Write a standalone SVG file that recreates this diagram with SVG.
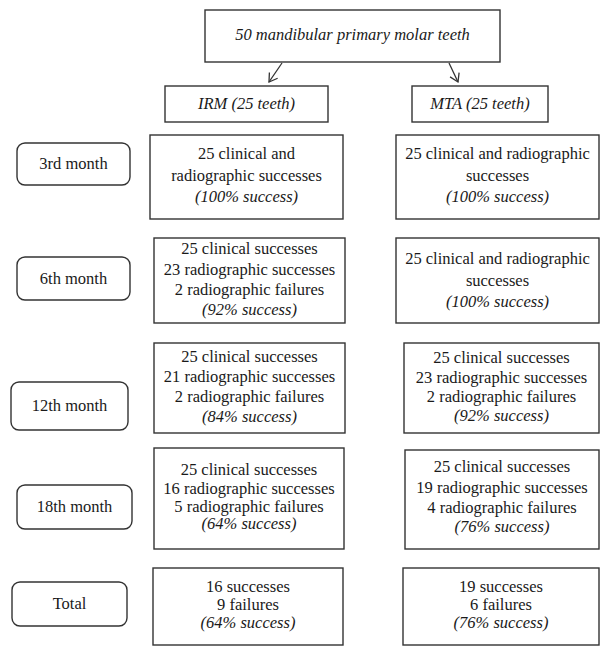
<svg xmlns="http://www.w3.org/2000/svg" width="610" height="656" viewBox="0 0 610 656">
<defs>
<style>
.box{fill:#fff;stroke:#333;stroke-width:1.4}
.lbl{fill:#fff;stroke:#333;stroke-width:1.4}
text{font-family:"Liberation Serif","Times New Roman",serif;font-size:16.5px;fill:#1a1a1a;text-anchor:middle}
.it{font-style:italic}
.conn{fill:none;stroke:#333;stroke-width:1.3}
</style>
<marker id="ah" markerWidth="12" markerHeight="12" refX="10" refY="6" orient="auto" markerUnits="userSpaceOnUse">
<polyline points="2,1 10,6 2,11" fill="none" stroke="#333" stroke-width="1.3"/>
</marker>
</defs>
<rect width="610" height="656" fill="#fff"/>

<g id="top">
<rect class="box" x="205" y="10" width="295" height="52"/>
<text class="it" x="352.5" y="40">50 mandibular primary molar teeth</text>
</g>
<g id="irm">
<rect class="box" x="165" y="86" width="163" height="36"/>
<text class="it" x="246.5" y="109">IRM (25 teeth)</text>
</g>
<g id="mta">
<rect class="box" x="412" y="86" width="136" height="36"/>
<text class="it" x="480" y="109">MTA (25 teeth)</text>
</g>

<g id="connectors">
<line class="conn" x1="282" y1="63" x2="269" y2="82" marker-end="url(#ah)"/>
<line class="conn" x1="449" y1="63" x2="458" y2="82" marker-end="url(#ah)"/>
</g>

<g id="m3">
<rect class="lbl" x="17" y="143" width="113" height="42" rx="8"/>
<text x="73.5" y="169">3rd month</text>
</g>
<g id="m6">
<rect class="lbl" x="17" y="257" width="113" height="43" rx="8"/>
<text x="73.5" y="284">6th month</text>
</g>
<g id="m12">
<rect class="lbl" x="11" y="382" width="117" height="48" rx="8"/>
<text x="69.5" y="411">12th month</text>
</g>
<g id="m18">
<rect class="lbl" x="17" y="485" width="115" height="44" rx="8"/>
<text x="74.5" y="512">18th month</text>
</g>
<g id="total">
<rect class="lbl" x="12" y="582" width="115" height="44" rx="8"/>
<text x="69.5" y="609">Total</text>
</g>

<g id="irm3">
<rect class="box" x="150" y="135" width="193" height="84"/>
<text x="246.5" y="159">25 clinical and</text>
<text x="246.5" y="180.5">radiographic successes</text>
<text class="it" x="246.5" y="202">(100% success)</text>
</g>
<g id="mta3">
<rect class="box" x="396" y="135" width="203" height="84"/>
<text x="497.5" y="159">25 clinical and radiographic</text>
<text x="497.5" y="180.5">successes</text>
<text class="it" x="497.5" y="202">(100% success)</text>
</g>

<g id="irm6">
<rect class="box" x="154" y="238" width="191" height="85"/>
<text x="249.5" y="254">25 clinical successes</text>
<text x="249.5" y="274.5">23 radiographic successes</text>
<text x="249.5" y="295">2 radiographic failures</text>
<text class="it" x="249.5" y="315">(92% success)</text>
</g>
<g id="mta6">
<rect class="box" x="396" y="238" width="203" height="85"/>
<text x="497.5" y="264">25 clinical and radiographic</text>
<text x="497.5" y="285.5">successes</text>
<text class="it" x="497.5" y="307">(100% success)</text>
</g>

<g id="irm12">
<rect class="box" x="154" y="343" width="191" height="90"/>
<text x="249.5" y="362">25 clinical successes</text>
<text x="249.5" y="382">21 radiographic successes</text>
<text x="249.5" y="402">2 radiographic failures</text>
<text class="it" x="249.5" y="422">(84% success)</text>
</g>
<g id="mta12">
<rect class="box" x="404" y="343" width="195" height="90"/>
<text x="501.5" y="363">25 clinical successes</text>
<text x="501.5" y="382.5">23 radiographic successes</text>
<text x="501.5" y="402">2 radiographic failures</text>
<text class="it" x="501.5" y="420.5">(92% success)</text>
</g>

<g id="irm18">
<rect class="box" x="154" y="448" width="190" height="101"/>
<text x="249" y="475">25 clinical successes</text>
<text x="249" y="493.5">16 radiographic successes</text>
<text x="249" y="511.5">5 radiographic failures</text>
<text class="it" x="249" y="529">(64% success)</text>
</g>
<g id="mta18">
<rect class="box" x="405" y="450" width="194" height="99"/>
<text x="502" y="472">25 clinical successes</text>
<text x="502" y="492.5">19 radiographic successes</text>
<text x="502" y="513">4 radiographic failures</text>
<text class="it" x="502" y="532">(76% success)</text>
</g>

<g id="irmtot">
<rect class="box" x="153" y="568" width="190" height="77"/>
<text x="248" y="592">16 successes</text>
<text x="248" y="610">9 failures</text>
<text class="it" x="248" y="628">(64% success)</text>
</g>
<g id="mtatot">
<rect class="box" x="403" y="568" width="196" height="77"/>
<text x="501" y="592">19 successes</text>
<text x="501" y="610">6 failures</text>
<text class="it" x="501" y="628">(76% success)</text>
</g>
</svg>
